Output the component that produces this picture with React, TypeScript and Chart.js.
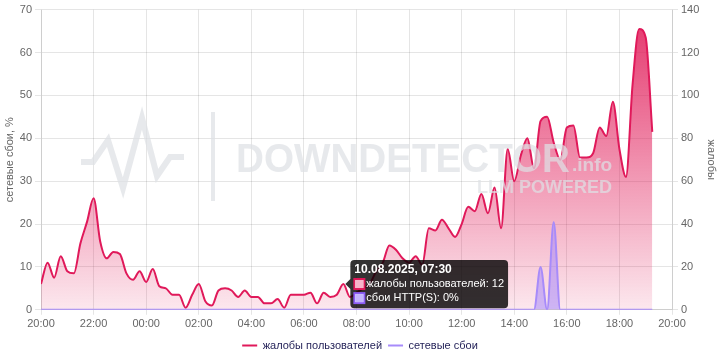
import React, { useEffect, useRef } from 'react';
import { Chart, registerables } from 'chart.js';

Chart.register(...registerables);

const START_DAY = '09.08.2025';
const NEXT_DAY = '10.08.2025';
const START_HOUR = 20;
const STEP_MINUTES = 15;
const ACTIVE_INDEX = 46;

const X_TICK_LABELS = ['20:00', '22:00', '00:00', '02:00', '04:00', '06:00', '08:00', '10:00', '12:00', '14:00', '16:00', '18:00', '20:00'];

// жалобы пользователей (right axis), every 15 minutes from 20:00
const COMPLAINTS = [
  12, 22, 15, 25, 18, 17, 31, 41, 52, 32,
  24, 27, 26, 17, 14, 18, 13, 19, 11, 10,
  7, 7, 1, 7, 12, 4, 2, 9, 10, 9,
  6, 9, 6, 6, 3, 3, 5, 1, 7, 7,
  7, 8, 3, 8, 6, 7, 12, 6, 8, 10,
  12, 18, 22, 30, 28, 24, 22, 25, 21, 38,
  37, 42, 38, 34, 40, 48, 46, 54, 45, 57,
  38, 75, 60, 72, 80, 66, 88, 90, 78, 70,
  85, 86, 71, 71, 73, 85, 81, 97, 75, 62,
  105, 131, 127, 83,
];

// сетевые сбои, % (left axis)
const NETWORK_FAILURES = [
  0, 0, 0, 0, 0, 0, 0, 0, 0, 0,
  0, 0, 0, 0, 0, 0, 0, 0, 0, 0,
  0, 0, 0, 0, 0, 0, 0, 0, 0, 0,
  0, 0, 0, 0, 0, 0, 0, 0, 0, 0,
  0, 0, 0, 0, 0, 0, 0, 0, 0, 0,
  0, 0, 0, 0, 0, 0, 0, 0, 0, 0,
  0, 0, 0, 0, 0, 0, 0, 0, 0, 0,
  0, 0, 0, 0, 0, 0, 10, 0, 20.5, 0,
  0, 0, 0, 0, 0, 0, 0, 0, 0, 0,
  0, 0, 0, 0,
];

const pad = (n: number) => String(n).padStart(2, '0');
const TIMES = COMPLAINTS.map((_, i) => {
  const total = START_HOUR * 60 + i * STEP_MINUTES;
  return `${pad(Math.floor(total / 60) % 24)}:${pad(total % 60)}`;
});
const hoursFromStart = (t: string) => {
  const [h, m] = t.split(':').map(Number);
  return ((h - START_HOUR + 24) % 24) + m / 60;
};
const dayFor = (i: number) => (START_HOUR * 60 + i * STEP_MINUTES >= 24 * 60 ? NEXT_DAY : START_DAY);

const FONT = "'Liberation Sans', Arial, sans-serif";

const watermark = {
  id: 'watermark',
  afterDatasetsDraw(chart: any) {
    const ctx = chart.ctx as CanvasRenderingContext2D;
    const col = 'rgba(222,224,229,0.72)';
    ctx.save();
    ctx.strokeStyle = col;
    ctx.lineWidth = 6;
    ctx.lineJoin = 'miter';
    ctx.beginPath();
    ctx.moveTo(81, 162);
    ctx.lineTo(93, 162);
    ctx.lineTo(108, 140);
    ctx.lineTo(123, 188);
    ctx.lineTo(142, 118);
    ctx.lineTo(157, 176);
    ctx.lineTo(170, 157);
    ctx.lineTo(184, 157);
    ctx.stroke();
    ctx.fillStyle = col;
    ctx.fillRect(211, 112, 4, 89);
    ctx.textBaseline = 'alphabetic';
    ctx.textAlign = 'left';
    ctx.font = `bold 40px ${FONT}`;
    ctx.fillText('DOWNDETECTOR', 236, 172, 334);
    ctx.font = `bold 19px ${FONT}`;
    ctx.fillText('.info', 572, 171);
    ctx.textAlign = 'right';
    ctx.font = `bold 18px ${FONT}`;
    ctx.fillText('LLM POWERED', 612, 193, 137);
    ctx.restore();
  },
};

const pinkFill = (context: any) => {
  const { ctx, chartArea } = context.chart;
  if (!chartArea) return 'rgba(225,29,90,0.3)';
  const g = ctx.createLinearGradient(0, chartArea.top, 0, chartArea.bottom);
  g.addColorStop(0, 'rgba(225,29,90,0.9)');
  g.addColorStop(1, 'rgba(225,29,90,0.1)');
  return g;
};

export default function App() {
  const ref = useRef<HTMLCanvasElement>(null);

  useEffect(() => {
    const canvas = ref.current;
    if (!canvas) return;
    const chart = new Chart(canvas, {
      type: 'line',
      data: {
        datasets: [
          {
            label: 'жалобы пользователей',
            data: COMPLAINTS.map((v, i) => ({ x: hoursFromStart(TIMES[i]), y: v })),
            yAxisID: 'y1',
            borderColor: '#e0195a',
            backgroundColor: pinkFill,
            borderWidth: 2,
            fill: 'origin',
            pointRadius: 0,
            pointHoverRadius: 0,
            cubicInterpolationMode: 'monotone',
            order: 1,
          },
          {
            label: 'сетевые сбои',
            data: NETWORK_FAILURES.map((v, i) => ({ x: hoursFromStart(TIMES[i]), y: v })),
            yAxisID: 'y',
            borderColor: '#a78bfa',
            backgroundColor: 'rgba(167,139,250,0.55)',
            borderWidth: 2,
            fill: 'origin',
            pointRadius: 0,
            pointHoverRadius: 0,
            cubicInterpolationMode: 'monotone',
            order: 0,
          },
        ],
      },
      options: {
        responsive: false,
        maintainAspectRatio: false,
        animation: false,
        events: [],
        layout: { padding: { top: 9, left: 0, right: 0, bottom: 0 } },
        interaction: { mode: 'index', intersect: false },
        scales: {
          x: {
            type: 'linear',
            min: 0,
            max: 24,
            grid: { color: 'rgba(0,0,0,0.1)', tickLength: 5 },
            ticks: {
              stepSize: 2,
              padding: 3,
              color: '#666',
              font: { family: FONT, size: 11 },
              maxRotation: 0,
              autoSkip: false,
              callback: (v: any) => X_TICK_LABELS[Math.round(Number(v) / 2)] ?? '',
            },
          },
          y: {
            position: 'left',
            min: 0,
            max: 70,
            grid: { color: 'rgba(0,0,0,0.1)', tickLength: 6 },
            ticks: { stepSize: 10, padding: 3, color: '#666', font: { family: FONT, size: 11 } },
            title: {
              display: true,
              text: 'сетевые сбои, %',
              color: '#666',
              font: { family: FONT, size: 11 },
              padding: { top: 3, bottom: 0 },
            },
            afterFit: (s: any) => {
              s.width = 41;
            },
          },
          y1: {
            position: 'right',
            min: 0,
            max: 140,
            grid: { drawOnChartArea: false, color: 'rgba(0,0,0,0.1)', tickLength: 6 },
            ticks: { stepSize: 20, padding: 3, color: '#666', font: { family: FONT, size: 11 } },
            title: {
              display: true,
              text: 'жалобы',
              color: '#666',
              font: { family: FONT, size: 11 },
              padding: { top: 2, bottom: 0 },
            },
            afterFit: (s: any) => {
              s.width = 48;
            },
          },
        },
        plugins: {
          legend: {
            position: 'bottom',
            labels: {
              boxWidth: 15,
              boxHeight: 2,
              padding: 6,
              color: '#26245a',
              font: { family: FONT, size: 11 },
              generateLabels: (c: any) =>
                c.data.datasets.map((ds: any, i: number) => ({
                  text: ds.label,
                  fillStyle: ds.borderColor,
                  strokeStyle: ds.borderColor,
                  lineWidth: 0,
                  hidden: false,
                  datasetIndex: i,
                  fontColor: '#26245a',
                })),
            },
          },
          tooltip: {
            enabled: true,
            position: 'nearest',
            backgroundColor: 'rgba(0,0,0,0.8)',
            padding: 4,
            cornerRadius: 4,
            caretSize: 5,
            titleColor: '#fff',
            bodyColor: '#fff',
            titleFont: { family: FONT, size: 12, weight: 'bold', lineHeight: 1 },
            bodyFont: { family: FONT, size: 11, lineHeight: 1.1 },
            titleMarginBottom: 2,
            bodySpacing: 2,
            boxWidth: 10,
            boxHeight: 10,
            callbacks: {
              title: (items: any[]) => {
                const i = items[0].dataIndex;
                return `${dayFor(i)}, ${TIMES[i]}`;
              },
              label: (item: any) =>
                item.datasetIndex === 0
                  ? `жалобы пользователей: ${item.raw.y}`
                  : `сбои HTTP(S): ${item.raw.y}%`,
              labelColor: (item: any) =>
                item.datasetIndex === 0
                  ? { borderColor: '#e0195a', backgroundColor: '#f7b5cb', borderWidth: 2 }
                  : { borderColor: '#8b5cf6', backgroundColor: '#c4b5fd', borderWidth: 2 },
            },
          },
        },
      },
      plugins: [watermark],
    } as any);

    const el: any = chart.getDatasetMeta(0).data[ACTIVE_INDEX];
    chart.tooltip?.setActiveElements(
      [
        { datasetIndex: 0, index: ACTIVE_INDEX },
        { datasetIndex: 1, index: ACTIVE_INDEX },
      ],
      { x: el.x, y: el.y }
    );
    chart.update();

    return () => chart.destroy();
  }, []);

  return (
    <div style={{ position: 'fixed', left: 0, top: 0, width: 720, height: 360, overflow: 'hidden', background: '#fff' }}>
      <canvas ref={ref} width={720} height={361} style={{ display: 'block' }} />
    </div>
  );
}
